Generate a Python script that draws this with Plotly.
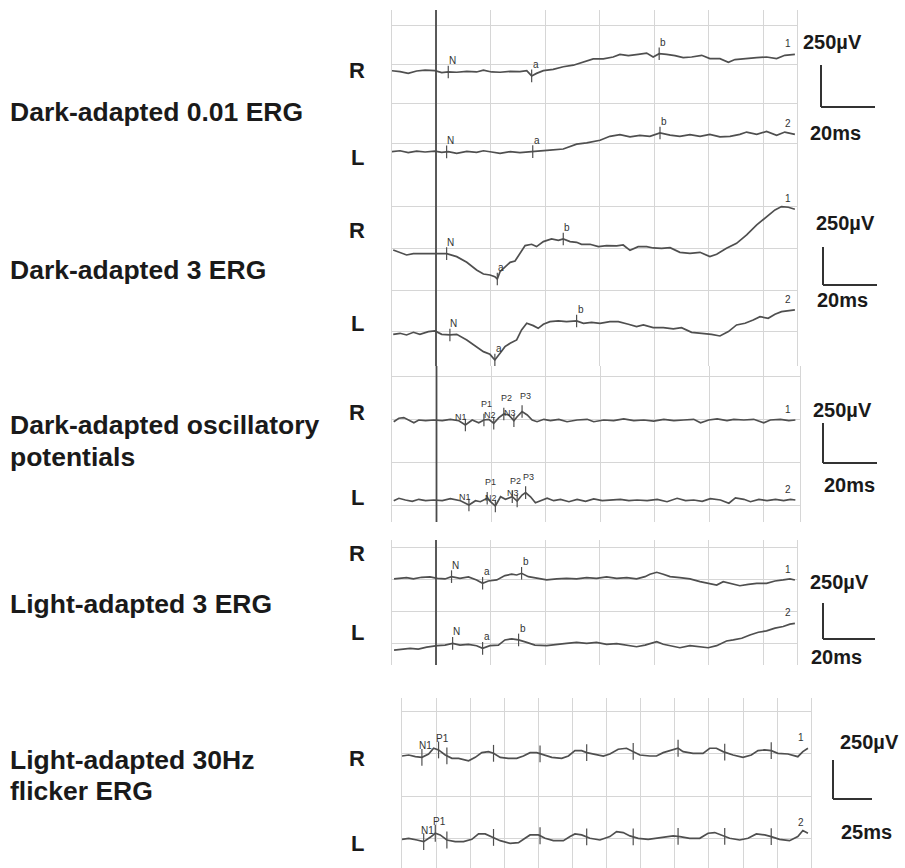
import numpy as np
import plotly.graph_objects as go

# ---------------- DATA (time in ms, amplitude in µV relative to each trace baseline) -------------
# Dark-adapted 0.01 ERG
t_da001_R = [-16.3,-13.2,-10.2,-7.1,-4.0,-0.4,2.1,4.5,7.6,11.3,14.9,17.4,20.4,23.5,27.2,30.8,33.3,35.1,36.9,39.4,43.0,46.7,50.4,54.1,57.7,61.4,65.0,67.5,70.6,74.2,77.3,79.7,81.9,84.6,87.7,90.7,93.8,97.5,100.5,104.2,107.3,109.7,114.0,117.7,121.3,125.0,128.0,131.7]
v_da001_R = [0,-6,-17,-2,4,0,-12,-8,-10,-4,-8,4,-8,-10,-4,-6,0,-33,-17,0,8,25,35,54,75,75,87,104,96,104,112,87,108,104,96,83,87,98,77,77,54,71,75,83,87,77,98,104]
t_da001_L = [-16.3,-13.2,-10.2,-7.1,-4.0,-0.4,2.1,4.5,7.6,11.3,14.9,17.4,20.4,23.5,27.2,30.8,35.1,38.2,41.8,46.7,51.6,55.3,60.2,63.8,67.5,71.2,74.8,78.5,82.2,85.9,89.5,93.2,96.9,100.5,104.2,107.9,111.5,114.0,117.7,121.3,125.0,128.0,131.7]
v_da001_L = [0,6,-6,4,-2,4,-4,0,-10,2,-4,6,-2,-10,0,-6,0,6,10,17,48,56,73,98,108,94,104,98,119,106,98,108,98,110,94,98,110,125,110,129,104,125,110]
mk_da001_R = [4.5, 35.1, 81.9]
mk_da001_L = [3.9, 35.5, 82.2]
lab_awave = ["N", "a", "b"]

# Dark-adapted 3 ERG
t_da3_R = [-15.7,-13.2,-10.8,-8.3,-4.6,-0.4,3.9,7.6,11.3,14.9,17.4,19.8,21.6,22.5,23.5,25.3,27.2,29.0,30.8,32.7,35.1,36.9,39.4,42.4,44.9,46.7,49.2,51.6,53.4,56.5,59.6,62.6,66.3,68.7,71.2,74.2,77.3,79.7,82.8,85.9,89.5,93.2,96.9,100.5,103.0,106.6,110.3,114.0,117.7,121.3,124.4,126.8,129.3,131.7]
v_da3_R = [20,6,-10,-2,-4,-2,-2,-20,-54,-100,-124,-130,-140,-154,-110,-80,-54,-46,0,46,54,40,70,86,78,86,70,66,54,54,40,46,44,50,18,40,40,32,30,34,6,0,6,-20,-6,30,60,110,170,220,260,280,276,264]
t_da3_L = [-15.7,-13.2,-10.8,-8.3,-5.9,-2.8,-0.4,2.1,5.1,7.6,11.3,14.9,17.4,19.8,21.6,23.5,25.3,27.2,29.6,31.4,33.3,35.7,37.5,39.4,41.8,44.9,47.9,51.6,54.1,57.1,60.2,63.8,66.9,70.6,73.6,76.1,79.7,83.4,87.1,90.1,93.8,97.5,101.1,104.2,107.3,110.3,113.4,116.4,118.9,121.9,124.4,126.8,129.3,131.7]
v_da3_L = [-6,0,-10,6,-6,10,14,-6,-10,-6,-40,-80,-110,-126,-160,-120,-80,-60,-40,20,60,46,30,54,70,74,70,74,60,66,60,70,70,54,40,50,34,34,26,34,6,0,-6,-16,10,50,60,80,100,90,114,130,134,140]
mk_da3_R = [3.9, 22.5, 46.7]
mk_da3_L = [5.1, 21.6, 51.6]

# Dark-adapted oscillatory potentials
t_op_R = [-15.7,-13.8,-12.0,-10.2,-8.3,-6.5,-4.0,-1.0,2.1,5.1,8.2,10.6,13.1,15.5,17.4,19.2,21.0,22.9,24.7,26.5,28.4,29.6,31.4,33.3,35.1,36.9,39.4,41.8,44.9,47.9,51.6,55.3,57.7,61.4,65.0,68.7,72.4,76.1,79.7,83.4,87.1,90.7,94.4,96.9,99.9,103.0,106.6,109.1,112.8,116.4,120.1,122.5,126.2,129.3,131.7]
v_op_R = [-10,10,14,0,-16,0,-4,0,-4,4,-4,-29,0,-16,0,4,-19,14,35,29,-4,19,49,29,0,-10,4,-4,4,-10,0,4,-10,0,-4,6,-4,0,-6,4,-4,0,4,-16,0,6,-4,4,0,4,-16,0,4,-4,0]
t_op_L = [-15.7,-13.8,-11.4,-8.9,-6.5,-4.0,-1.0,2.1,5.1,8.8,11.9,14.3,16.1,18.6,19.8,21.6,23.5,25.3,27.8,29.6,31.4,32.7,34.5,36.3,38.2,40.6,43.0,45.5,48.6,51.6,54.7,57.7,60.8,63.8,67.5,70.6,73.6,77.3,81.0,84.6,88.3,91.4,94.4,97.5,100.5,104.2,107.3,109.7,112.8,115.2,118.3,121.3,124.4,127.4,129.9,131.7]
v_op_L = [-4,10,0,-8,4,-4,0,-4,8,-4,-29,-4,-10,10,-10,-35,19,4,19,-6,29,43,19,-16,-4,10,-4,4,-10,4,-8,6,-4,0,4,-4,0,-4,4,-10,10,-4,0,-8,8,0,-19,12,4,-10,4,-4,4,-4,4,0]
mk_op_R = [10.6, 17.4, 21.0, 24.7, 28.4, 31.4]
mk_op_L = [11.9, 18.6, 21.6, 27.8, 29.6, 32.7]
lab_op = ["N1", "P1", "N2", "P2", "N3", "P3"]

# Light-adapted 3 ERG
t_la3_R = [-15.4,-13.2,-10.8,-8.3,-5.3,-2.2,0.5,3.3,5.7,8.8,11.9,14.9,17.1,19.2,22.3,25.3,27.8,29.6,31.4,33.9,36.9,40.6,44.3,47.9,51.6,55.3,58.9,62.6,66.3,70.0,73.6,76.7,78.5,81.0,83.4,85.9,89.5,93.2,96.9,99.9,103.0,105.4,107.9,111.5,114.6,117.7,121.3,124.4,127.4,129.9,131.7]
v_la3_R = [-5,0,5,-5,8,11,0,-5,13,0,11,-13,-39,-21,-13,21,32,26,39,13,0,-13,-5,0,-5,5,0,11,0,5,-5,13,32,47,32,13,5,-5,-26,-39,-53,-26,-39,-58,-47,-39,-39,-21,-13,-5,-13]
t_la3_L = [-15.4,-12.6,-9.5,-6.5,-3.4,0.5,3.3,6.1,8.8,11.9,14.9,17.1,19.8,22.9,25.3,27.8,30.3,33.3,36.3,40.6,44.3,47.9,51.6,55.3,58.9,62.6,66.3,70.0,73.6,76.7,79.0,81.0,83.4,86.5,89.5,93.2,96.9,99.9,103.0,106.6,109.1,112.2,115.2,118.3,121.3,124.4,127.4,129.9,131.7]
v_la3_L = [-34,-26,-21,-26,-11,0,5,18,5,11,0,-21,0,5,45,53,45,26,5,0,11,18,26,18,26,11,16,5,-8,5,18,32,11,0,-16,0,-8,-16,0,37,45,58,84,105,116,137,150,168,174]
mk_la3_R = [5.7, 17.1, 31.4]
mk_la3_L = [6.1, 17.1, 30.3]

# Light-adapted 30Hz flicker ERG
t_fl_R = [0,4.9,9.8,14.6,19.5,23.2,26.8,31.7,36.6,41.5,48.8,53.7,58.5,63.4,67.1,72.0,78.0,84.1,89.0,93.9,98.8,103.7,109.8,117.1,122.0,126.8,131.7,135.4,140.2,147.6,152.4,158.5,164.6,168.3,174.4,181.7,186.6,191.5,197.6,202.4,206.1,213.4,220.7,225.6,230.5,235.4,242.7,250.0,256.1,261.0,265.9,270.7,275.6,282.9,290.2,293.9,297.6]
v_fl_R = [-6,0,-10,-14,6,40,30,0,-20,-20,-34,-14,14,20,10,-14,-20,-20,-6,14,14,0,-14,-20,-6,26,26,14,6,-6,6,34,40,26,0,-6,-6,14,30,40,20,10,10,40,40,20,0,-14,0,26,30,26,10,6,-10,20,40]
t_fl_L = [0,4.9,11.0,15.9,20.7,24.4,28.0,32.9,39.0,45.1,51.2,56.1,61.0,65.9,72.0,79.3,85.4,90.2,93.9,100.0,104.9,111.0,118.3,123.2,126.8,131.7,137.8,145.1,152.4,157.3,162.2,167.1,173.2,180.5,186.6,192.7,198.8,203.7,211.0,218.3,224.4,229.3,234.1,240.2,247.6,253.7,259.8,265.9,270.7,276.8,284.1,290.2,293.9,297.6]
v_fl_L = [-6,0,-10,-20,6,30,20,-10,-20,-20,-6,26,26,10,-14,-30,-26,0,20,20,0,-14,-14,10,26,20,0,-10,10,40,34,14,0,-6,0,10,14,10,0,0,30,34,20,0,-10,0,26,20,10,-6,-14,10,46,30]
mk_fl_R = [14.6, 26.8, 32.9, 67.1, 101.2, 135.4, 169.5, 202.4, 236.6, 270.7]
mk_fl_L = [15.9, 24.4, 32.9, 67.1, 101.2, 135.4, 169.5, 202.4, 236.6, 270.7]
lab_fl = ["N1", "P1"]

protocol_names = ["Dark-adapted 0.01 ERG", "Dark-adapted 3 ERG",
                  "Dark-adapted oscillatory<br>potentials", "Light-adapted 3 ERG",
                  "Light-adapted 30Hz<br>flicker ERG"]
volt_bars = ["250µV"] * 5
time_bars = ["20ms", "20ms", "20ms", "20ms", "25ms"]
eye_names = ["R", "L"]
channel_tags = ["1", "2"]

# ---------------- LAYOUT (pixel geometry) -------------
W, H = 905, 868
FONT = "Liberation Sans, Arial, sans-serif"
TRACE_C = "#4f4f4f"
GRID_C = "#d6d6d6"

def fx(p):
    return p / W

def fy(p):
    return 1 - p / H

panels = [
    dict(t_R=t_da001_R, v_R=v_da001_R, t_L=t_da001_L, v_L=v_da001_L, mR=mk_da001_R, mL=mk_da001_L, labs=lab_awave,
         x0=392, x1=797, top=10, bot=177, t0=436, tpx=54.5, tdiv=20, g=143, sp=39.3, rb=70.7, lb=151.7, stim=True,
         name_y=[112], eyeR=70, eyeL=158, vb=dict(tx=832, ty=42, bx=821, by0=65, by1=107, bx1=875, mx=835, my=133)),
    dict(t_R=t_da3_R, v_R=v_da3_R, t_L=t_da3_L, v_L=v_da3_L, mR=mk_da3_R, mL=mk_da3_L, labs=lab_awave,
         x0=392, x1=797, top=177, bot=366, t0=436, tpx=54.5, tdiv=20, g=331.7, sp=41.7, rb=253.3, lb=333.3, stim=True,
         name_y=[270], eyeR=230, eyeL=323, vb=dict(tx=845, ty=223, bx=823, by0=247, by1=285, bx1=877, mx=842, my=300)),
    dict(t_R=t_op_R, v_R=v_op_R, t_L=t_op_L, v_L=v_op_L, mR=mk_op_R, mL=mk_op_L, labs=lab_op,
         x0=392, x1=800, top=366, bot=522, t0=436.5, tpx=54.5, tdiv=20, g=462, sp=43, rb=420, lb=500, stim=True,
         name_y=[425, 457], eyeR=412, eyeL=497, vb=dict(tx=842, ty=410, bx=823, by0=423, by1=463, bx1=877, mx=849, my=485)),
    dict(t_R=t_la3_R, v_R=v_la3_R, t_L=t_la3_L, v_L=v_la3_L, mR=mk_la3_R, mL=mk_la3_L, labs=lab_awave,
         x0=392, x1=797, top=540, bot=665, t0=436, tpx=54.5, tdiv=20, g=643.3, sp=32, rb=578.3, lb=645.7, stim=True,
         name_y=[604], eyeR=553, eyeL=632, vb=dict(tx=839, ty=582, bx=823, by0=603, by1=639, bx1=875, mx=836, my=657)),
    dict(t_R=t_fl_R, v_R=v_fl_R, t_L=t_fl_L, v_L=v_fl_L, mR=mk_fl_R, mL=mk_fl_L, labs=lab_fl,
         x0=402, x1=811, top=698, bot=868, t0=402, tpx=34.1, tdiv=25, g=838.3, sp=42.2, rb=755, lb=838.3, stim=False,
         name_y=[760, 791], eyeR=758, eyeL=843, vb=dict(tx=869, ty=742, bx=833, by0=760, by1=799, bx1=872, mx=866, my=832)),
]

fig = go.Figure()
layout = dict(width=W, height=H, margin=dict(l=0, r=0, t=0, b=0),
              paper_bgcolor="white", plot_bgcolor="white", showlegend=False)
annotations = []
shapes = []
small = dict(family=FONT, size=10, color="#333333")

for i, p in enumerate(panels, start=1):
    xa = "x" if i == 1 else f"x{i}"
    ya = "y" if i == 1 else f"y{i}"
    k = 250.0 / p["sp"]
    xr = [(p["x0"] - p["t0"]) / p["tpx"] * p["tdiv"], (p["x1"] - p["t0"]) / p["tpx"] * p["tdiv"]]
    yr = [(p["g"] - p["bot"]) * k, (p["g"] - p["top"]) * k]
    layout["xaxis" if i == 1 else f"xaxis{i}"] = dict(
        domain=[fx(p["x0"]), fx(p["x1"])], range=xr, anchor=ya, tick0=0, dtick=p["tdiv"],
        showgrid=True, gridcolor=GRID_C, gridwidth=1, zeroline=False, showline=False,
        showticklabels=False, ticks="", fixedrange=True)
    layout["yaxis" if i == 1 else f"yaxis{i}"] = dict(
        domain=[fy(p["bot"]), fy(p["top"])], range=yr, anchor=xa, tick0=0, dtick=250,
        showgrid=True, gridcolor=GRID_C, gridwidth=1, zeroline=False, showline=True, mirror=True,
        linecolor=GRID_C, linewidth=1, showticklabels=False, ticks="", fixedrange=True)

    if p["stim"]:
        shapes.append(dict(type="line", xref=xa, yref=f"{ya} domain", x0=0, x1=0, y0=0, y1=1,
                           line=dict(color="#4a4a4a", width=1.8), layer="above"))

    for side, base, tag in (("R", p["rb"], channel_tags[0]), ("L", p["lb"], channel_tags[1])):
        off = (p["g"] - base) * k
        t = np.array(p["t_" + side], dtype=float)
        v = np.array(p["v_" + side], dtype=float) + off
        fig.add_trace(go.Scatter(x=t, y=v, mode="lines", xaxis=xa, yaxis=ya,
                                 line=dict(color=TRACE_C, width=1.7), hoverinfo="skip"))
        mt = np.array(p["m" + side], dtype=float)
        mv = np.interp(mt, t, v)
        fig.add_trace(go.Scatter(x=mt, y=mv, mode="markers", xaxis=xa, yaxis=ya, hoverinfo="skip",
                                 marker=dict(symbol="line-ns", size=9 if i < 5 else 12,
                                             line=dict(width=1.2, color=TRACE_C))))
        for j, lab in enumerate(p["labs"]):
            if len(p["labs"]) == 6:
                # dense oscillatory-potential labels: N labels low/left, P labels high/right
                is_p = lab.startswith("P")
                xs, ys, fs = (3, 9, 9) if is_p else (-4, 1, 9)
            else:
                xs, ys, fs = 4, 4, 10
            annotations.append(dict(x=mt[j], y=mv[j], xref=xa, yref=ya, text=lab, showarrow=False,
                                    xanchor="center", yanchor="bottom", xshift=xs, yshift=ys,
                                    font=dict(family=FONT, size=fs, color="#333333")))
        annotations.append(dict(x=t[-1], y=v[-1], xref=xa, yref=ya, text=tag, showarrow=False,
                                xanchor="center", yanchor="bottom", xshift=-7, yshift=3, font=small))

    # protocol label (one annotation per text line)
    for line_txt, yy in zip(protocol_names[i - 1].split("<br>"), p["name_y"]):
        annotations.append(dict(x=fx(8), y=fy(yy), xref="paper", yref="paper",
                                text=line_txt, showarrow=False, xanchor="left", yanchor="middle",
                                font=dict(family=FONT, size=26.5, color="#1a1a1a", weight="bold")))
    # eye labels
    for lab, yy in ((eye_names[0], p["eyeR"]), (eye_names[1], p["eyeL"])):
        annotations.append(dict(x=fx(357), y=fy(yy), xref="paper", yref="paper", text=lab,
                                showarrow=False, xanchor="center", yanchor="middle",
                                font=dict(family=FONT, size=22, color="#1a1a1a", weight="bold")))
    # scale bars
    vb = p["vb"]
    shapes.append(dict(type="line", xref="paper", yref="paper", x0=fx(vb["bx"]), x1=fx(vb["bx"]),
                       y0=fy(vb["by0"]), y1=fy(vb["by1"]), line=dict(color="#333333", width=2)))
    shapes.append(dict(type="line", xref="paper", yref="paper", x0=fx(vb["bx"]), x1=fx(vb["bx1"]),
                       y0=fy(vb["by1"]), y1=fy(vb["by1"]), line=dict(color="#333333", width=2)))
    annotations.append(dict(x=fx(vb["tx"]), y=fy(vb["ty"]), xref="paper", yref="paper", text=volt_bars[i - 1],
                            showarrow=False, xanchor="center", yanchor="middle",
                            font=dict(family=FONT, size=20, color="#1a1a1a", weight="bold")))
    annotations.append(dict(x=fx(vb["mx"]), y=fy(vb["my"]), xref="paper", yref="paper", text=time_bars[i - 1],
                            showarrow=False, xanchor="center", yanchor="middle",
                            font=dict(family=FONT, size=20, color="#1a1a1a", weight="bold")))

layout["annotations"] = annotations
layout["shapes"] = shapes
fig.update_layout(**layout)
fig.write_html("out.html")
